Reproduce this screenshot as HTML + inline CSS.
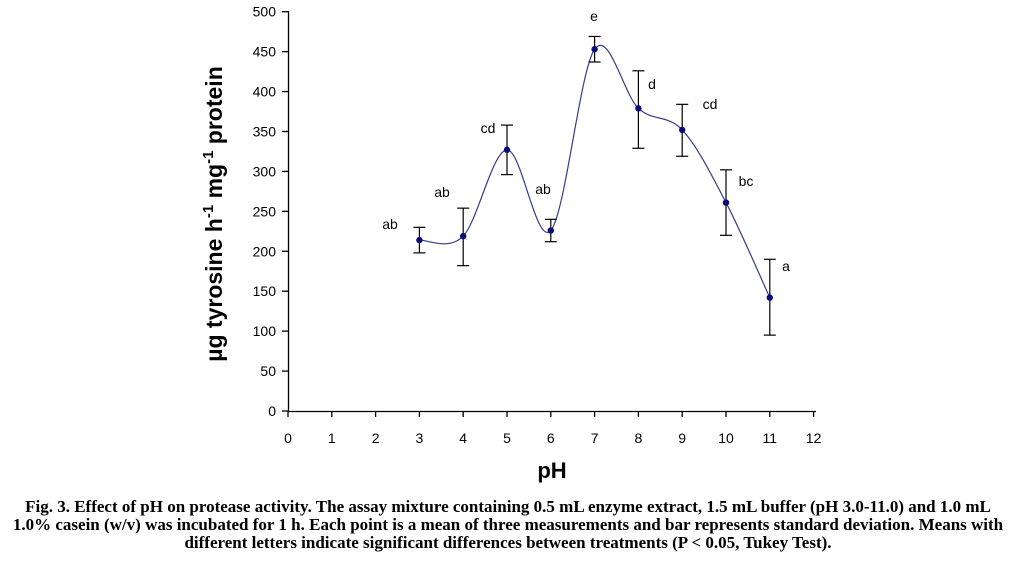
<!DOCTYPE html>
<html><head><meta charset="utf-8"><style>
body{margin:0;background:#fff;width:1016px;height:576px;overflow:hidden}
svg text{font-family:"Liberation Sans",sans-serif}
.cap{position:absolute;left:0;top:498px;width:1016px;text-align:center;font:bold 17px/18px "Liberation Serif",serif;color:#000;white-space:nowrap}
</style></head><body>
<svg id="s" width="1016" height="576" style="position:absolute;left:0;top:0" xmlns="http://www.w3.org/2000/svg">
<g stroke="#000" stroke-width="1.3" fill="none" id="ax">
<line x1="288.5" y1="11" x2="288.5" y2="411"/>
<line x1="288" y1="411.5" x2="816" y2="411.5"/>
</g>
<g id="yt" font-size="14" text-anchor="end" fill="#000"></g>
<g id="xt" font-size="14" text-anchor="middle" fill="#000"></g>
<path id="curve" fill="none" stroke="#3a3a8a" stroke-width="1.2"/>
<g id="eb" stroke="#000" stroke-width="1.2"></g>
<g id="pt" fill="#0a0a78"></g>
<g font-size="14" fill="#000" text-anchor="middle">
<text x="390" y="229">ab</text><text x="442" y="197">ab</text><text x="488" y="133">cd</text>
<text x="543" y="194">ab</text><text x="594" y="21">e</text><text x="652" y="89">d</text>
<text x="710" y="109">cd</text><text x="746" y="186">bc</text><text x="786" y="271">a</text>
</g>
<text x="552" y="478" font-size="22" font-weight="bold" text-anchor="middle">pH</text>
<text transform="translate(222,214) rotate(-90)" font-size="23" font-weight="bold" text-anchor="middle">µg tyrosine h<tspan dy="-9" font-size="15">-1</tspan><tspan dy="9"> mg</tspan><tspan dy="-9" font-size="15">-1</tspan><tspan dy="9"> protein</tspan></text>
</svg>
<div class="cap">Fig. 3. Effect of pH on protease activity. The assay mixture containing 0.5 mL enzyme extract, 1.5 mL buffer (pH 3.0-11.0) and 1.0 mL<br>1.0% casein (w/v) was incubated for 1 h. Each point is a mean of three measurements and bar represents standard deviation. Means with<br>different letters indicate significant differences between treatments (P &lt; 0.05, Tukey Test).</div>
<script>
var NS="http://www.w3.org/2000/svg";
function X(x){return 288+43.8*x}function Y(v){return 411-0.7986*v}
function el(p,t,a,txt){var e=document.createElementNS(NS,t);for(var k in a)e.setAttribute(k,a[k]);if(txt!=null)e.textContent=txt;document.getElementById(p).appendChild(e);}
for(var v=0;v<=500;v+=50){var y=Y(v);el("ax","line",{x1:282,y1:y,x2:288,y2:y});el("yt","text",{x:276,y:y+5},v);}
for(var i=0;i<=12;i++){var x=X(i);el("ax","line",{x1:x,y1:411,x2:x,y2:417});el("xt","text",{x:x,y:443},i);}
var d=[[3,214,198,230],[4,219,182,254],[5,327,296,358],[6,226,212,240],[7,453,437,469],[8,379,329,426],[9,352,319,384],[10,261,220,302],[11,142,95,190]];
var P=d.map(function(r){return [X(r[0]),Y(r[1])]});
var s="M"+P[0][0]+","+P[0][1];
for(var i=0;i<P.length-1;i++){var p0=P[Math.max(i-1,0)],p1=P[i],p2=P[i+1],p3=P[Math.min(i+2,P.length-1)];
s+=" C"+(p1[0]+(p2[0]-p0[0])/6)+","+(p1[1]+(p2[1]-p0[1])/6)+" "+(p2[0]-(p3[0]-p1[0])/6)+","+(p2[1]-(p3[1]-p1[1])/6)+" "+p2[0]+","+p2[1];}
document.getElementById("curve").setAttribute("d",s);
d.forEach(function(r){var x=X(r[0]),a=Y(r[2]),b=Y(r[3]);
el("eb","line",{x1:x,y1:a,x2:x,y2:b});el("eb","line",{x1:x-6,y1:a,x2:x+6,y2:a});el("eb","line",{x1:x-6,y1:b,x2:x+6,y2:b});
el("pt","circle",{cx:x,cy:Y(r[1]),r:3.2});});
</script>
</body></html>
